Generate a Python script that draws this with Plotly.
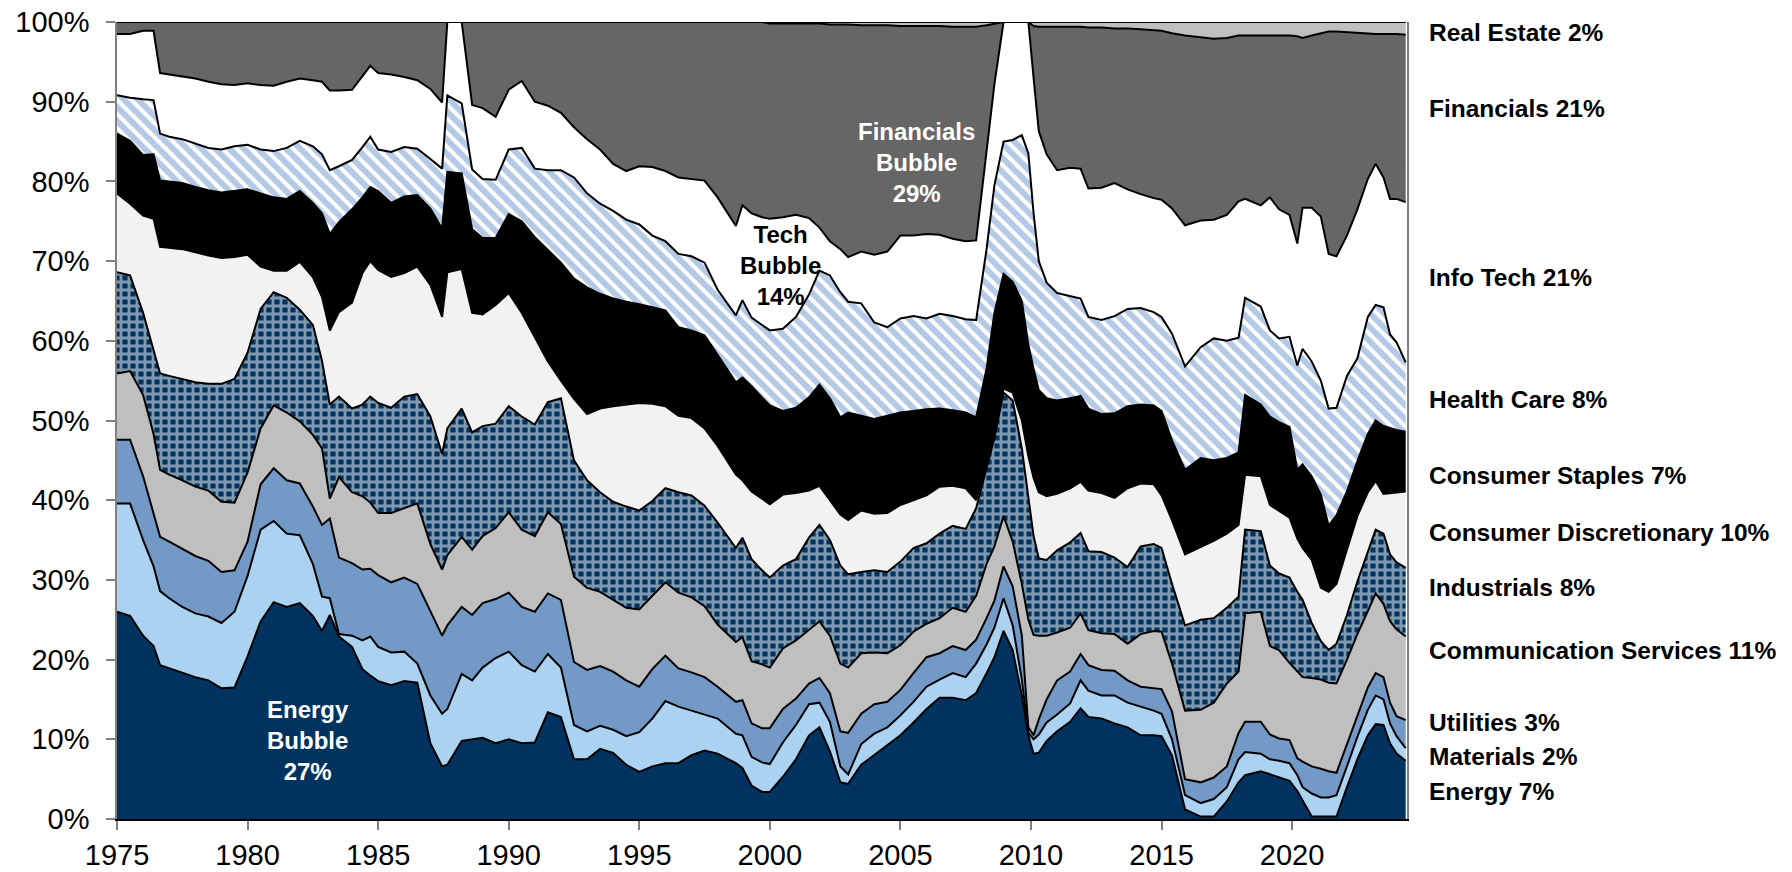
import numpy as np
import plotly.graph_objects as go

# ---------------- data ----------------
years = [1975.0, 1975.5, 1976.0, 1976.4, 1976.65, 1977.0, 1977.5, 1978.0, 1978.5, 1979.0,
         1979.5, 1980.0, 1980.5, 1981.0, 1981.5, 1982.0, 1982.5, 1982.85, 1983.15, 1983.5,
         1984.0, 1984.4, 1984.7, 1985.0, 1985.5, 1986.0, 1986.5, 1987.0, 1987.45, 1987.65,
         1988.2, 1988.6, 1989.0, 1989.5, 1990.0, 1990.5, 1991.0, 1991.5, 1992.0, 1992.5,
         1993.0, 1993.5, 1994.0, 1994.5, 1995.0, 1995.5, 1996.0, 1996.5, 1997.0, 1997.5,
         1998.0, 1998.7, 1998.95, 1999.3, 1999.7, 2000.0, 2000.5, 2001.0, 2001.5, 2001.9,
         2002.3, 2002.7, 2003.0, 2003.5, 2004.0, 2004.5, 2005.0, 2005.5, 2006.0, 2006.5,
         2007.0, 2007.5, 2007.9, 2008.3, 2008.6, 2008.95, 2009.3, 2009.65, 2009.9, 2010.1,
         2010.3, 2010.6, 2011.0, 2011.5, 2011.9, 2012.2, 2012.7, 2013.2, 2013.7, 2014.2,
         2014.7, 2015.0, 2015.4, 2015.9, 2016.5, 2017.0, 2017.5, 2017.95, 2018.2, 2018.8,
         2019.15, 2019.5, 2019.9, 2020.2, 2020.4, 2020.75, 2021.1, 2021.4, 2021.7, 2022.1,
         2022.5, 2022.9, 2023.2, 2023.5, 2023.75, 2024.0, 2024.35]

# cumulative share (%) at the top of each sector band, bottom to top
energy_top = [26.0, 25.5, 23.0, 21.7, 19.3, 18.9, 18.4, 17.8, 17.4, 16.4,
              16.5, 20.4, 24.8, 27.2, 26.6, 27.1, 25.5, 23.6, 25.6, 22.9,
              21.6, 18.8, 18.0, 17.3, 16.8, 17.3, 17.1, 9.5, 6.6, 6.8,
              9.8, 10.0, 10.2, 9.5, 10.0, 9.5, 9.6, 13.4, 12.8, 7.5,
              7.5, 8.8, 8.3, 6.8, 5.9, 6.6, 7.0, 7.0, 8.0, 8.6,
              8.2, 7.0, 6.4, 4.2, 3.4, 3.4, 5.3, 7.5, 10.5, 11.5,
              8.5, 4.6, 4.4, 6.8, 8.0, 9.3, 10.5, 12.1, 13.8, 15.2,
              15.2, 14.9, 15.8, 18.3, 20.3, 23.6, 21.2, 15.5, 10.5, 8.2,
              8.3, 9.8, 11.0, 12.2, 13.9, 12.8, 12.6, 12.0, 11.5, 10.5,
              10.5, 10.4, 8.0, 1.2, 0.3, 0.3, 2.2, 4.6, 5.5, 6.0,
              5.6, 5.2, 4.8, 3.5, 2.3, 0.3, 0.3, 0.3, 0.3, 4.0,
              7.5, 10.5, 11.9, 11.8, 9.5, 8.2, 7.3]

materials_top = [39.6, 39.6, 35.0, 31.7, 28.6, 27.7, 26.6, 25.8, 25.4, 24.6,
                 26.0, 30.5, 36.3, 37.4, 35.8, 35.6, 32.0, 27.9, 27.7, 23.2,
                 23.0, 22.4, 22.9, 21.6, 20.9, 21.0, 19.5, 15.5, 13.2, 13.8,
                 18.2, 17.4, 19.0, 20.2, 21.0, 19.3, 18.5, 20.7, 19.0, 11.8,
                 11.0, 11.7, 11.2, 10.4, 10.9, 12.6, 14.8, 14.1, 13.6, 13.1,
                 12.6, 10.7, 10.5, 7.8, 7.1, 6.9, 9.6, 11.8, 14.4, 14.6,
                 12.2, 6.6, 5.6, 9.4, 10.7, 11.5, 13.0, 14.7, 16.6, 17.5,
                 18.3, 17.8, 19.5, 21.9, 24.0, 27.7, 24.3, 17.5, 10.8, 10.0,
                 10.6, 12.1, 13.1, 14.5, 17.4, 16.1, 15.5, 15.5, 14.6, 14.1,
                 13.6, 13.2, 10.0, 3.0, 2.0, 2.5, 4.0, 7.5, 8.4, 8.2,
                 7.5, 7.3, 7.0, 5.5, 4.0, 3.2, 2.7, 2.7, 3.0, 6.6,
                 10.3, 13.7, 15.5, 15.0, 12.0, 10.4, 8.9]

utilities_top = [47.6, 47.6, 43.0, 38.5, 35.4, 34.8, 33.9, 33.0, 32.4, 31.0,
                 31.2, 34.8, 42.0, 44.0, 42.5, 42.1, 39.2, 36.9, 37.7, 32.8,
                 32.1, 31.3, 31.4, 30.6, 29.7, 30.3, 29.5, 26.0, 23.0, 24.3,
                 26.6, 25.6, 27.1, 27.6, 28.4, 26.6, 26.0, 28.3, 27.5, 19.7,
                 18.7, 19.2, 18.5, 17.4, 16.6, 18.8, 20.5, 18.9, 18.4, 17.8,
                 16.6, 14.7, 14.9, 12.0, 11.4, 11.4, 13.8, 15.1, 17.0, 17.7,
                 15.8, 11.0, 10.8, 13.2, 14.4, 14.7, 16.2, 18.3, 20.3, 20.8,
                 21.7, 21.2, 22.5, 25.2, 27.4, 31.7, 29.2, 23.0, 11.5, 10.5,
                 12.5, 15.0, 17.4, 18.5, 20.7, 19.3, 18.7, 18.6, 17.4, 16.6,
                 16.4, 16.3, 13.5, 5.0, 4.6, 5.2, 6.6, 10.8, 12.2, 12.2,
                 10.6, 10.1, 9.9, 7.6, 7.2, 6.6, 6.3, 6.0, 5.8, 9.3,
                 12.8, 16.5, 18.3, 17.8, 14.6, 12.9, 12.4]

comm_top = [55.9, 56.2, 53.2, 48.3, 43.8, 43.2, 42.5, 41.7, 41.2, 39.8,
            39.7, 43.5, 49.0, 51.9, 51.0, 49.9, 48.2, 46.5, 40.2, 42.9,
            41.0, 40.5, 39.7, 38.4, 38.4, 39.0, 39.6, 34.5, 31.3, 33.1,
            35.4, 33.8, 35.5, 36.5, 38.5, 36.3, 35.5, 38.5, 37.0, 30.4,
            29.0, 28.5, 27.5, 26.5, 26.3, 28.0, 29.7, 28.4, 27.8, 26.7,
            24.4, 22.2, 22.8, 19.8, 19.4, 19.0, 21.4, 22.4, 23.8, 24.8,
            23.0, 19.5, 19.0, 20.8, 20.9, 20.8, 21.8, 23.5, 24.5, 25.2,
            26.5, 26.0, 28.0, 32.0, 34.2, 38.0, 34.8, 29.5, 25.0, 23.1,
            23.0, 23.0, 23.4, 24.0, 25.8, 23.7, 23.3, 23.2, 22.0, 23.2,
            23.6, 23.5, 19.5, 13.6, 13.7, 14.6, 17.0, 18.5, 25.8, 26.0,
            21.7, 21.2, 19.6, 18.5, 17.8, 17.7, 17.5, 17.1, 17.0, 20.0,
            23.2, 26.1, 28.3, 27.0, 24.8, 23.8, 22.9]

industrials_top = [68.6, 68.2, 63.5, 59.0, 55.9, 55.6, 55.2, 54.8, 54.6, 54.6,
                   55.2, 58.5, 64.0, 66.1, 65.4, 63.9, 62.0, 57.5, 52.0, 53.0,
                   51.5, 52.0, 53.0, 52.2, 51.6, 53.0, 53.3, 50.5, 45.8, 49.0,
                   51.5, 48.5, 49.3, 49.6, 51.8, 50.5, 49.5, 52.3, 52.8, 45.0,
                   42.5, 41.0, 39.8, 39.2, 38.7, 39.9, 41.5, 41.0, 40.6, 39.3,
                   37.2, 34.0, 35.3, 32.6, 31.2, 30.3, 31.8, 32.6, 35.3, 36.9,
                   35.0, 31.8, 30.7, 31.0, 31.2, 31.0, 32.3, 34.0, 34.6, 35.8,
                   36.8, 36.4, 39.0, 44.0, 47.8, 53.5, 52.5, 46.5, 40.0, 35.5,
                   32.7, 32.5, 33.7, 34.7, 35.9, 33.6, 33.5, 32.8, 31.6, 34.2,
                   34.5, 34.0, 29.5, 24.3, 25.0, 25.2, 26.5, 27.9, 36.3, 36.1,
                   31.8, 30.8, 30.3, 28.5, 27.5, 24.6, 22.3, 21.2, 22.0, 25.6,
                   29.8, 33.4, 36.3, 35.8, 33.2, 32.2, 31.5]

consdisc_top = [78.5, 77.2, 75.7, 75.3, 71.8, 71.7, 71.5, 71.1, 70.7, 70.4,
                70.5, 70.8, 69.3, 68.8, 68.8, 69.9, 68.0, 65.5, 61.3, 63.6,
                64.8, 68.5, 70.0, 68.9, 68.0, 68.5, 69.3, 67.0, 63.0, 68.6,
                69.0, 63.5, 63.3, 64.5, 66.0, 63.5, 60.4, 57.4, 55.0, 52.7,
                50.8, 51.5, 51.8, 52.0, 52.2, 52.1, 51.8, 50.6, 50.3, 49.0,
                46.8, 43.2, 42.5, 41.1, 40.2, 39.5, 40.7, 40.9, 41.2, 41.8,
                40.0, 38.2, 37.5, 38.7, 38.3, 38.4, 39.4, 40.0, 40.6, 41.7,
                41.8, 41.5, 40.0, 44.5, 48.3, 54.0, 53.5, 50.0, 45.5, 42.8,
                41.0, 40.5, 40.8, 41.5, 42.3, 41.2, 40.9, 40.3, 41.5, 42.1,
                42.0, 40.6, 37.5, 33.2, 34.1, 34.9, 35.8, 36.9, 43.2, 43.0,
                39.4, 38.7, 37.8, 35.2, 34.0, 32.5, 29.0, 28.5, 29.5, 33.8,
                38.0, 41.0, 42.4, 40.8, 40.9, 41.0, 41.1]

staples_top = [86.0, 85.1, 83.3, 83.4, 80.1, 80.0, 79.8, 79.3, 78.9, 78.6,
               78.8, 79.0, 78.5, 78.0, 77.8, 78.8, 77.3, 76.0, 73.4, 74.9,
               76.5, 78.0, 79.3, 78.8, 77.3, 78.1, 78.3, 76.6, 74.1, 81.2,
               81.0, 74.0, 72.9, 72.9, 75.9, 75.0, 73.0, 71.4, 69.8, 67.8,
               66.7, 65.9, 65.3, 64.9, 64.6, 64.2, 63.8, 61.7, 61.3, 60.7,
               58.2, 54.8, 55.4, 54.3, 52.9, 51.9, 51.2, 51.6, 52.9, 54.5,
               52.8, 50.4, 51.0, 50.6, 50.2, 50.6, 51.0, 51.2, 51.4, 51.5,
               51.3, 51.0, 50.4, 56.5, 63.5, 68.4, 67.4, 65.0, 59.5, 56.5,
               53.8, 52.8, 52.5, 52.8, 53.1, 51.5, 50.8, 50.9, 51.8, 52.0,
               51.9, 51.2, 47.5, 43.8, 45.3, 45.0, 45.3, 46.0, 53.2, 52.0,
               50.5, 49.8, 49.2, 43.8, 44.5, 43.0, 40.7, 36.8, 38.1, 41.1,
               44.9, 48.3, 50.0, 49.3, 49.0, 48.8, 48.6]

health_top = [90.8, 90.5, 90.3, 90.2, 86.0, 85.6, 85.3, 84.7, 84.2, 84.0,
              84.4, 84.6, 84.0, 83.8, 84.2, 85.1, 84.4, 83.4, 81.4, 81.9,
              82.7, 84.3, 85.6, 84.0, 83.7, 84.3, 84.1, 82.8, 81.6, 90.8,
              89.8, 81.5, 80.3, 80.2, 84.0, 84.2, 81.6, 81.4, 81.4, 80.5,
              78.5, 77.2, 76.3, 75.2, 74.6, 73.2, 72.5, 70.9, 70.6, 69.8,
              66.4, 63.2, 65.1, 62.9, 62.0, 61.3, 61.5, 63.0, 65.8, 68.8,
              68.2, 66.1, 64.9, 64.7, 62.3, 61.7, 62.8, 63.1, 62.8, 63.4,
              63.1, 62.7, 62.6, 71.5, 79.5, 85.0, 85.2, 85.8, 83.5, 76.0,
              70.0, 67.3, 66.0, 65.6, 65.3, 63.0, 62.6, 63.1, 64.0, 64.1,
              63.6, 63.0, 60.9, 56.8, 59.2, 60.3, 60.0, 60.4, 65.4, 64.3,
              61.3, 60.3, 60.5, 56.9, 59.0, 57.4, 55.0, 51.5, 51.6, 55.6,
              57.8, 63.0, 64.5, 64.2, 60.8, 59.8, 57.3]

infotech_top = [98.5, 98.5, 98.9, 98.9, 93.6, 93.4, 93.2, 92.9, 92.5, 92.2,
                92.1, 92.3, 92.1, 92.0, 92.5, 92.9, 92.7, 92.5, 91.4, 91.4,
                91.5, 93.2, 94.5, 93.6, 93.4, 93.1, 92.7, 91.6, 89.9, 100.0,
                100.0, 89.6, 89.2, 88.1, 91.5, 92.6, 90.0, 89.5, 88.6, 86.8,
                85.3, 84.0, 82.2, 81.3, 81.9, 81.8, 81.3, 80.5, 80.3, 80.1,
                78.0, 74.4, 77.0, 76.0, 75.5, 75.3, 75.5, 75.8, 75.4, 74.2,
                72.5, 71.5, 70.5, 71.2, 70.8, 71.2, 73.2, 73.2, 73.4, 73.3,
                72.8, 72.5, 72.6, 83.4, 92.2, 100.0, 100.0, 100.0, 100.0, 93.0,
                86.3, 83.4, 81.4, 81.7, 81.6, 79.1, 79.2, 79.8, 79.0, 78.4,
                77.9, 77.7, 76.6, 74.5, 75.1, 75.2, 75.8, 77.5, 77.8, 77.0,
                78.0, 76.5, 75.8, 72.2, 76.7, 76.7, 75.6, 70.9, 70.6, 73.2,
                76.5, 80.3, 82.2, 80.5, 77.8, 77.8, 77.4]

financials_top = [100.0, 100.0, 100.0, 100.0, 100.0, 100.0, 100.0, 100.0, 100.0, 100.0,
                  100.0, 100.0, 100.0, 100.0, 100.0, 100.0, 100.0, 100.0, 100.0, 100.0,
                  100.0, 100.0, 100.0, 100.0, 100.0, 100.0, 100.0, 100.0, 100.0, 100.0,
                  100.0, 100.0, 100.0, 100.0, 100.0, 100.0, 100.0, 100.0, 100.0, 100.0,
                  100.0, 100.0, 100.0, 100.0, 100.0, 100.0, 100.0, 100.0, 100.0, 100.0,
                  100.0, 100.0, 100.0, 100.0, 100.0, 99.8, 99.8, 99.8, 99.8, 99.8,
                  99.7, 99.7, 99.7, 99.6, 99.6, 99.6, 99.5, 99.5, 99.5, 99.5,
                  99.4, 99.4, 99.4, 99.6, 99.8, 100.0, 100.0, 100.0, 100.0, 99.5,
                  99.4, 99.4, 99.4, 99.4, 99.4, 99.3, 99.3, 99.2, 99.2, 99.1,
                  99.0, 98.9, 98.6, 98.3, 98.1, 97.9, 98.0, 98.3, 98.3, 98.3,
                  98.3, 98.3, 98.3, 98.2, 98.0, 98.3, 98.6, 98.8, 98.8, 98.7,
                  98.6, 98.5, 98.5, 98.5, 98.5, 98.5, 98.4]

sectors = ["Energy", "Materials", "Utilities", "Communication Services", "Industrials",
           "Consumer Discretionary", "Consumer Staples", "Health Care", "Info Tech",
           "Financials", "Real Estate"]

right_labels = ["Energy 7%", "Materials 2%", "Utilities 3%", "Communication Services 11%",
                "Industrials 8%", "Consumer Discretionary 10%", "Consumer Staples 7%",
                "Health Care 8%", "Info Tech 21%", "Financials 21%", "Real Estate 2%"]

x_ticks = [1975, 1980, 1985, 1990, 1995, 2000, 2005, 2010, 2015, 2020]
y_ticks = [0, 10, 20, 30, 40, 50, 60, 70, 80, 90, 100]

# ---------------- build sector shares from the band tops ----------------
bands = [energy_top, materials_top, utilities_top, comm_top, industrials_top,
         consdisc_top, staples_top, health_top, infotech_top, financials_top]
n = len(years)
for b in bands:
    assert len(b) == n, len(b)
cum = np.vstack([np.zeros(n)] + [np.array(b, dtype=float) for b in bands] + [np.full(n, 100.0)])
shares = np.clip(np.diff(cum, axis=0), 0, None)

# ---------------- styles ----------------
NAVY = "#00335F"
styles = [
    dict(fillcolor=NAVY),
    dict(fillcolor="#ABD3F1"),
    dict(fillcolor="#7399C6"),
    dict(fillcolor="#BFBFBF"),
    # checkerboard look: navy squares separated by white lines
    dict(fillcolor=NAVY,
         fillpattern=dict(shape="+", fgcolor="white", bgcolor=NAVY, size=8, solidity=0.58)),
    dict(fillcolor="#F2F2F2"),
    dict(fillcolor="#000000"),
    dict(fillcolor="white",
         fillpattern=dict(shape="\\", fgcolor="#6A94CC", bgcolor="white", size=10, solidity=0.6)),
    dict(fillcolor="white"),
    dict(fillcolor="#666666"),
    dict(fillcolor="#BFBFBF"),
]

fig = go.Figure()
for name, vals, st in zip(sectors, shares, styles):
    fig.add_trace(go.Scatter(
        x=years, y=vals, name=name, stackgroup="one", mode="lines",
        line=dict(color="black", width=2), showlegend=False,
        hovertemplate=name + ": %{y:.1f}%<extra></extra>", **st))

FONT = "Liberation Sans, Arial, sans-serif"

fig.update_layout(
    width=1792, height=872,
    margin=dict(l=117, r=385, t=22, b=53),
    plot_bgcolor="white", paper_bgcolor="white",
    showlegend=False,
    font=dict(family=FONT, color="black"),
    xaxis=dict(range=[1975, 2024.4], tickmode="array", tickvals=x_ticks,
               ticktext=[str(t) for t in x_ticks], ticks="outside", ticklen=9,
               tickcolor="#808080", tickwidth=1.5, showline=True, linecolor="black",
               linewidth=1.5, showgrid=False, zeroline=False, automargin=False,
               tickfont=dict(size=29, family=FONT, color="black")),
    yaxis=dict(range=[0, 100], tickmode="array", tickvals=y_ticks,
               ticktext=[f"{t}%" for t in y_ticks], ticks="outside", ticklen=9,
               tickcolor="#808080", tickwidth=1.5, showline=True, linecolor="#808080",
               linewidth=1.5, mirror=True, showgrid=False, zeroline=False,
               automargin=False, ticklabelstandoff=11,
               tickfont=dict(size=29, family=FONT, color="black")),
)

# bubble call-outs
bubbles = [
    dict(x=1982.3, y=9.9, text="<b>Energy<br>Bubble<br>27%</b>", color="white"),
    dict(x=2000.4, y=69.5, text="<b>Tech<br>Bubble<br>14%</b>", color="black"),
    dict(x=2005.6, y=82.4, text="<b>Financials<br>Bubble<br>29%</b>", color="white"),
]
for b in bubbles:
    fig.add_annotation(x=b["x"], y=b["y"], xref="x", yref="y", text=b["text"],
                       showarrow=False, font=dict(size=24, color=b["color"], family=FONT),
                       align="center")

# right-hand labels
label_y = [3.4, 7.9, 12.1, 21.2, 29.1, 36.0, 43.1, 52.6, 68.0, 89.1, 98.7]
for txt, yv in zip(right_labels, label_y):
    fig.add_annotation(x=1, xref="paper", xanchor="left", xshift=20, y=yv, yref="y",
                       yanchor="middle", text=f"<b>{txt}</b>", showarrow=False,
                       font=dict(size=24.5, color="black", family=FONT), align="left")

# the page's default 8px body margin would push the 1792x872 figure off the window
fig.write_html("out.html",
               config={"displayModeBar": False},
               post_script="document.body.style.margin='0px';"
                           "document.body.style.overflow='hidden';")
